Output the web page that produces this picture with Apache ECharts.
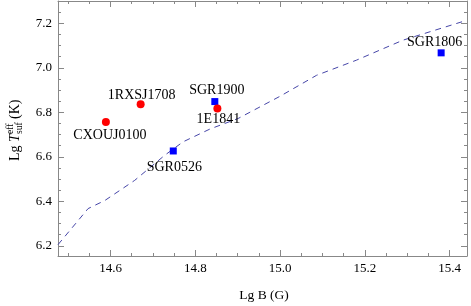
<!DOCTYPE html>
<html><head><meta charset="utf-8">
<script src="https://cdn.jsdelivr.net/npm/echarts@6/dist/echarts.min.js"></script>
<style>html,body{margin:0;padding:0;background:#fff}#c{width:471px;height:306px}</style>
</head><body><div id="c"></div>
<script>
// ---- data ----
const redNames = ['CXOUJ0100', '1RXSJ1708', '1E1841'];
const redB = [14.589, 14.671, 14.852];
const redT = [6.756, 6.836, 6.817];
const blueNames = ['SGR1900', 'SGR0526', 'SGR1806'];
const blueB = [14.846, 14.748, 15.380];
const blueT = [6.848, 6.626, 7.067];
const curveB = [14.476, 14.547, 14.587, 14.657, 14.728, 14.771, 14.835, 14.901, 15.0, 15.086, 15.180, 15.290, 15.44];
const curveT = [6.205, 6.367, 6.404, 6.494, 6.607, 6.667, 6.725, 6.772, 6.872, 6.966, 7.034, 7.124, 7.213];
const xTicks = [14.6, 14.8, 15.0, 15.2, 15.4];
const yTicks = [6.2, 6.4, 6.6, 6.8, 7.0, 7.2];

// ---- layout / style ----
const XMIN = 14.476, XMAX = 15.441, YMIN = 6.154, YMAX = 7.30;
const labelOffsets = {
  'CXOUJ0100': [4, 13.5], '1RXSJ1708': [1, -9], '1E1841': [1, 11],
  'SGR1900': [2, -11.5], 'SGR0526': [1, 16.5], 'SGR1806': [-6.5, -10.5]
};
const FONT = '"Liberation Serif", "DejaVu Serif", serif';
const AX = '#888888';
function minorList(a, b, step) {
  const out = [];
  for (let v = a; v <= b + 1e-9; v += step) out.push(+v.toFixed(3));
  return out;
}
const xMinor = minorList(14.5, 15.4, 0.05);
const yMinor = minorList(6.15, 7.3, 0.05);

function pts(xs, ys, names) {
  return xs.map((x, i) => ({
    name: names[i], value: [x, ys[i]],
    label: { offset: labelOffsets[names[i]] }
  }));
}

function mkAxis(kind, pos, ticks, len, labels, line) {
  return {
    type: 'value', min: kind === 'x' ? XMIN : YMIN, max: kind === 'x' ? XMAX : YMAX, position: pos,
    axisLine: { show: line, onZero: false, lineStyle: { color: AX, width: 1 } },
    axisTick: { show: true, inside: true, length: len, customValues: ticks, lineStyle: { color: AX } },
    axisLabel: labels ? { show: true, customValues: ticks, formatter: v => v.toFixed(1), color: '#000', fontFamily: FONT, fontSize: 13, margin: 6 } : { show: false },
    splitLine: { show: false }
  };
}

const chart = echarts.init(document.getElementById('c'), null, { renderer: 'canvas' });
const labelStyle = { show: true, position: 'inside', formatter: '{b}', color: '#000', fontFamily: FONT, fontSize: 14 };

chart.setOption({
  animation: false,
  backgroundColor: '#fff',
  grid: { left: 58, right: 4, top: 1, bottom: 50, containLabel: false },
  xAxis: [
    mkAxis('x', 'bottom', xTicks, 6, true, true),
    mkAxis('x', 'bottom', xMinor, 3, false, false),
    mkAxis('x', 'top', xTicks, 6, false, true),
    mkAxis('x', 'top', xMinor, 3, false, false)
  ],
  yAxis: [
    mkAxis('y', 'left', yTicks, 6, true, true),
    mkAxis('y', 'left', yMinor, 3, false, false),
    mkAxis('y', 'right', yTicks, 6, false, true),
    mkAxis('y', 'right', yMinor, 3, false, false)
  ],
  series: [
    {
      type: 'line', xAxisIndex: 0, yAxisIndex: 0,
      data: curveB.map((x, i) => [x, curveT[i]]),
      showSymbol: false, symbol: 'none', smooth: false, silent: true,
      lineStyle: { color: '#4646a8', width: 1, type: [6, 5] }, z: 1
    },
    {
      type: 'scatter', xAxisIndex: 0, yAxisIndex: 0,
      data: pts(blueB, blueT, blueNames),
      symbol: 'rect', symbolSize: 7, itemStyle: { color: '#0000ff', opacity: 1 },
      label: labelStyle, z: 3
    },
    {
      type: 'scatter', xAxisIndex: 0, yAxisIndex: 0,
      data: pts(redB, redT, redNames),
      symbol: 'circle', symbolSize: 8, itemStyle: { color: '#ff0000', opacity: 1 },
      label: labelStyle, z: 4
    }
  ],
  graphic: [
    {
      type: 'text', x: 264, y: 295, style: { text: 'Lg B (G)', font: '13.5px ' + FONT, fill: '#000', align: 'center', verticalAlign: 'middle' }
    },
    {
      type: 'group', x: 15, y: 161, rotation: Math.PI / 2,
      children: [
        { type: 'text', x: 0, y: 0, style: { text: 'Lg', font: '14px ' + FONT, fill: '#000', verticalAlign: 'middle', align: 'left' } },
        { type: 'text', x: 19, y: 0, style: { text: 'T', font: 'italic 14px ' + FONT, fill: '#000', verticalAlign: 'middle', align: 'left' } },
        { type: 'text', x: 27, y: -5, style: { text: 'eff', font: '9.5px ' + FONT, fill: '#000', verticalAlign: 'middle', align: 'left' } },
        { type: 'text', x: 27, y: 4, style: { text: 'suf', font: '9.5px ' + FONT, fill: '#000', verticalAlign: 'middle', align: 'left' } },
        { type: 'text', x: 42, y: 0, style: { text: '(K)', font: '14px ' + FONT, fill: '#000', verticalAlign: 'middle', align: 'left' } }
      ]
    }
  ]
});
</script></body></html>
